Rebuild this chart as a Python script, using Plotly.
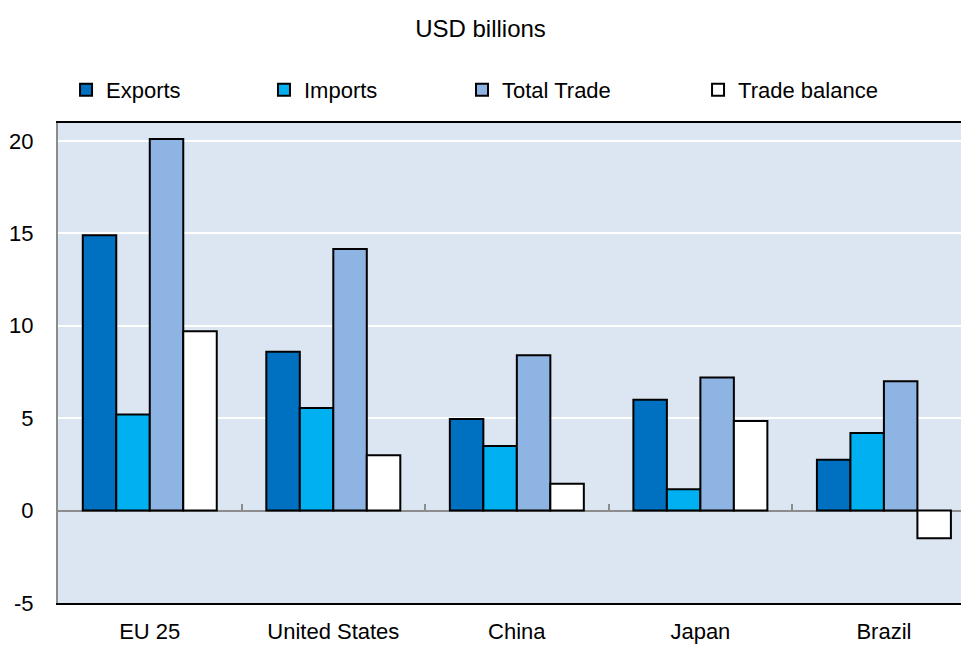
import plotly.graph_objects as go

categories = ["EU 25", "United States", "China", "Japan", "Brazil"]
exports = [14.9, 8.6, 4.95, 6.0, 2.75]
imports = [5.2, 5.55, 3.5, 1.15, 4.2]
total_trade = [20.1, 14.15, 8.4, 7.2, 7.0]
trade_balance = [9.7, 3.0, 1.45, 4.85, -1.5]
series_names = ["Exports", "Imports", "Total Trade", "Trade balance"]
series_colors = ["#0070C0", "#00B0F0", "#8EB4E3", "#FFFFFF"]
y_tickvals = [-5, 0, 5, 10, 15, 20]

FONT = "Liberation Sans, Arial, sans-serif"
FS = 22

fig = go.Figure()
legend_ids = ["legend", "legend2", "legend3", "legend4"]
for name, vals, col, lg in zip(series_names, [exports, imports, total_trade, trade_balance], series_colors, legend_ids):
    fig.add_trace(go.Bar(
        x=categories, y=vals, name=name, legend=lg,
        marker=dict(color=col, line=dict(color="#000000", width=2)),
    ))

# invisible trace for separator tick axis
fig.add_trace(go.Scatter(x=[0], y=[0], xaxis="x2", mode="markers",
                         marker=dict(opacity=0), showlegend=False, hoverinfo="skip"))

xr = [-0.5, 4.42]
yr = [-5, 20.97]
legend_x = [0.0089, 0.2281, 0.4474, 0.7088]
leg_common = dict(orientation="h", y=1.069, yanchor="middle", xanchor="left",
                  font=dict(family=FONT, size=FS, color="#000"), bgcolor="rgba(0,0,0,0)",
                  itemwidth=30)
layout_legends = {}
for lg, lx in zip(legend_ids, legend_x):
    layout_legends[lg] = dict(leg_common, x=lx)

fig.update_layout(
    width=961, height=648,
    margin=dict(l=58, r=0, t=123, b=45, autoexpand=False),
    paper_bgcolor="#FFFFFF",
    plot_bgcolor="#DCE6F2",
    font=dict(family=FONT, size=FS, color="#000"),
    title=dict(text="USD billions", x=0.5, xref="container", xanchor="center",
               y=1 - 29 / 648, yref="container", yanchor="middle",
               font=dict(family=FONT, size=24, color="#000")),
    barmode="group", bargap=0.27, bargroupgap=0,
    xaxis=dict(range=xr, showline=True, mirror=True, linecolor="#000000", linewidth=2,
               ticks="", showgrid=False, tickfont=dict(size=FS), ticklabelstandoff=8,
               automargin=False),
    xaxis2=dict(overlaying="x", anchor="free", position=(0 - yr[0]) / (yr[1] - yr[0]),
                range=xr, showticklabels=False, showgrid=False, showline=False,
                tickvals=[i + 0.5 for i in range(len(categories) - 1)],
                ticks="inside", ticklen=7, tickwidth=2, tickcolor="#8C8C8C", zeroline=False,
                automargin=False),
    yaxis=dict(range=yr, tickvals=y_tickvals, ticktext=[str(v) for v in y_tickvals],
               showgrid=True, gridcolor="#FFFFFF", gridwidth=2,
               zeroline=True, zerolinecolor="#8C8C8C", zerolinewidth=2,
               showline=True, linecolor="#8C8C8C", linewidth=2, ticks="",
               tickfont=dict(size=FS), ticklabelstandoff=18, automargin=False),
    **layout_legends,
)

fig.write_html("out.html", config={"displayModeBar": False},
               post_script="document.body.style.margin='0';document.body.style.overflow='hidden';")
